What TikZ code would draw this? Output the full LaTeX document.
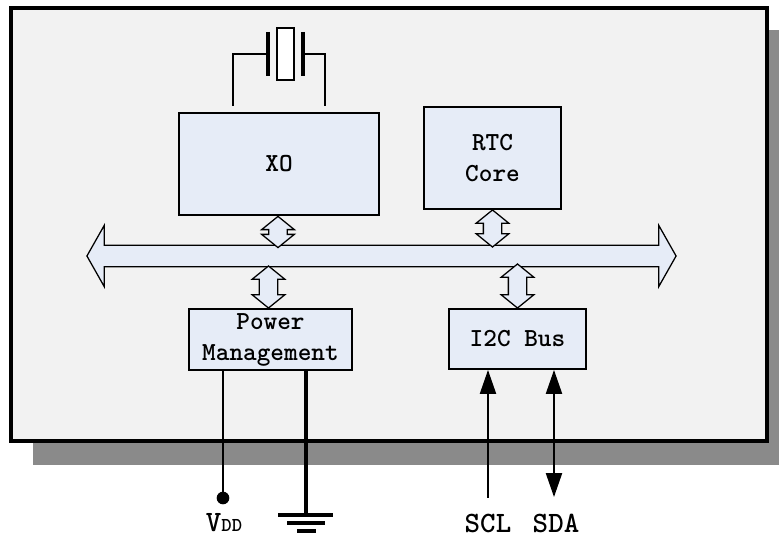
\documentclass[tikz,border=0pt]{standalone}
\usetikzlibrary{arrows.meta,shapes.arrows,calc}
\definecolor{framegray}{HTML}{F2F2F2}
\definecolor{boxblue}{HTML}{E6ECF7}
\definecolor{shadowgray}{HTML}{8A8A8A}

\begin{document}
\begin{tikzpicture}[x=0.025cm, y=-0.025cm,
    block/.style = {draw, line width=1.4pt, fill=boxblue, align=center, inner sep=0pt, font=\fontsize{18.5}{22}\selectfont\ttfamily\bfseries},
    bus/.style = {draw, line width=0.9pt, fill=boxblue, shape=double arrow, inner sep=0pt, inner ysep=0.25cm, double arrow head extend=0.5cm, double arrow tip angle=121},
    link/.style = {draw, line width=0.9pt, fill=boxblue, shape=double arrow, rotate=90, inner sep=0pt, inner ysep=0.2125cm, double arrow head extend=0.18cm, double arrow tip angle=102},
    pin/.style = {font=\fontsize{21}{25}\selectfont\ttfamily\bfseries},
    sig/.style = {line width=1.1pt},
    tip/.tip = {Triangle[length=17pt, width=11.5pt]}]
    \useasboundingbox (0,0) rectangle (779,538);
    \fill[shadowgray] (33,30) rectangle (800,465);
    \draw[line width=2.4pt, fill=framegray] (11,8) rectangle (767,441);

    \node[block, minimum width=5cm, minimum height=2.55cm] (xo) at (279,164) {XO};
    \node[block, minimum width=3.425cm, minimum height=2.55cm] (rtc) at (492.5,158) {RTC\\Core};
    \node[block, minimum width=4.075cm, minimum height=1.525cm] (pm) at (270.5,339.5) {Power\\Management};
    \node[block, minimum width=3.425cm, minimum height=1.5cm] (i2c) at (517.5,339) {I2C Bus};

    \node[bus, minimum height=14.725cm] (sysbus) at (381.5,256) {};
    \node[link, minimum height=0.78cm] (xolink) at ($(xo.south)+(-1,16)$) {};
    \node[link, minimum height=0.925cm] (rtclink) at ($(rtc.south)+(0,18.5)$) {};
    \node[link, minimum height=1.05cm] (pmlink) at ($(pm.north)+(-2,-21)$) {};
    \node[link, minimum height=1.1cm] (i2clink) at ($(i2c.north)+(0,-22)$) {};

    \node[draw, line width=1.4pt, fill=white, minimum width=0.425cm, minimum height=1.3cm, inner sep=0pt] (xtal) at (285.5,54) {};
    \draw[line width=2.4pt] ($(xtal.west)+(-8,-22)$) -- ($(xtal.west)+(-8,22)$);
    \draw[line width=2.4pt] ($(xtal.east)+(8,-22)$) -- ($(xtal.east)+(8,22)$);
    \coordinate (xl) at ($(xo.north west)+(55,-6)$);
    \coordinate (xr) at ($(xo.north east)+(-55,-6)$);
    \draw[sig] ($(xtal.west)+(-8,0)$) -| (xl);
    \draw[sig] ($(xtal.east)+(8,0)$) -| (xr);

    \coordinate (vdd) at (223,498);
    \draw[sig] (vdd |- pm.south) -- (vdd);
    \fill (vdd) circle (4.5pt);
    \node[pin] (vddlbl) at (224,523) {V{\fontsize{14}{16}\selectfont DD}};

    \coordinate (gnd) at (306,515);
    \draw[line width=2.4pt] (gnd |- pm.south) -- (gnd);
    \draw[line width=2.4pt] ($(gnd)+(-28,0)$) -- ($(gnd)+(27,0)$);
    \draw[line width=2.4pt] ($(gnd)+(-19,8)$) -- ($(gnd)+(19,8)$);
    \draw[line width=2.4pt] ($(gnd)+(-9,16)$) -- ($(gnd)+(10,16)$);

    \coordinate (scl) at (488,498);
    \draw[sig, -tip] (scl) -- (scl |- i2c.south);
    \node[pin] (scllbl) at (488,523) {SCL};
    \coordinate (sda) at (554,497);
    \draw[sig, tip-tip] (sda |- i2c.south) -- (sda);
    \node[pin] (sdalbl) at (556,523) {SDA};
\end{tikzpicture}
\end{document}
